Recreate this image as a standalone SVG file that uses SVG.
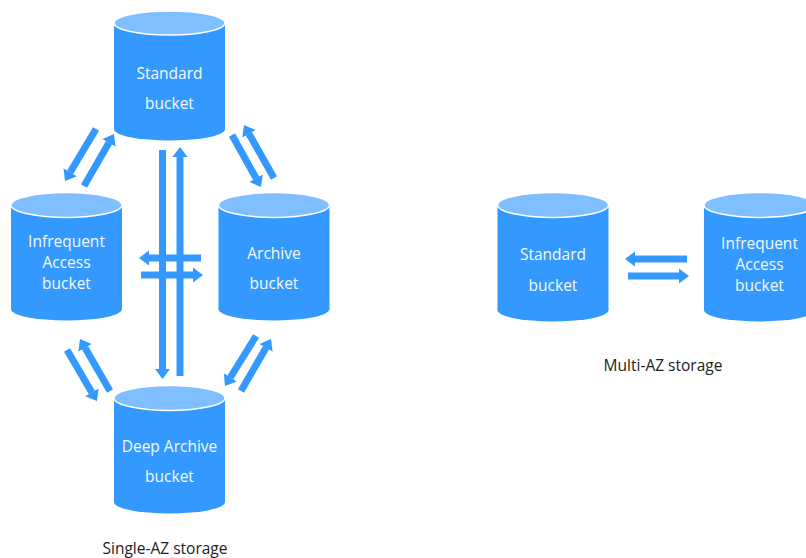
<svg xmlns="http://www.w3.org/2000/svg" width="806" height="558" viewBox="0 0 806 558">
  <style>
    .body { fill: #3399ff; }
    .top { fill: #80bfff; stroke: #ffffff; stroke-width: 1.5; }
    .lbl { font-family: "Open Sans", "Noto Sans", sans-serif; font-size: 15.5px; fill: #f4f9ff; text-anchor: middle; }
    .cap { font-family: "Open Sans", "Noto Sans", sans-serif; font-size: 15.5px; fill: #222222; text-anchor: middle; }
    .arr { stroke: #3399ff; stroke-width: 7; fill: none; marker-end: url(#head); }
  </style>
  <defs>
    <marker id="head" markerUnits="strokeWidth" markerWidth="1.45" markerHeight="2.2" refX="0.02" refY="1.1" orient="auto" viewBox="0 0 1.45 2.2">
      <path d="M0,0 L1.45,1.1 L0,2.2 Z" fill="#3399ff"/>
    </marker>
  </defs>
  <rect width="806" height="558" fill="#ffffff"/>

  <g id="connectors">
    <line class="arr" x1="96" y1="129" x2="70.1" y2="172.4"/>
    <line class="arr" x1="84" y1="186" x2="109" y2="142.7"/>
    <line class="arr" x1="232" y1="135" x2="256.1" y2="178.3"/>
    <line class="arr" x1="274" y1="178" x2="248.9" y2="133.7"/>
    <line class="arr" x1="67" y1="350" x2="91.9" y2="392.4"/>
    <line class="arr" x1="110" y1="391" x2="85" y2="347.7"/>
    <line class="arr" x1="256" y1="336" x2="230.3" y2="377.5"/>
    <line class="arr" x1="241" y1="391" x2="266" y2="347.7"/>
    <line class="arr" x1="162.5" y1="150" x2="162.5" y2="369"/>
    <line class="arr" x1="180" y1="376" x2="180" y2="157"/>
    <line class="arr" x1="201" y1="258" x2="149" y2="258"/>
    <line class="arr" x1="141" y1="275" x2="193" y2="275"/>
    <line class="arr" x1="687" y1="259" x2="635" y2="259"/>
    <line class="arr" x1="628" y1="276" x2="679" y2="276"/>
  </g>

  <g id="single-standard">
    <rect class="body" x="114" y="23" width="111" height="106"/>
    <ellipse class="body" cx="169.5" cy="129" rx="55.5" ry="11.5"/>
    <ellipse class="top" cx="169.5" cy="23" rx="55.5" ry="12"/>
    <text class="lbl" x="169.5" y="79">Standard</text>
    <text class="lbl" x="169.5" y="109">bucket</text>
  </g>

  <g id="single-ia">
    <rect class="body" x="11" y="205" width="111" height="104"/>
    <ellipse class="body" cx="66.5" cy="309" rx="55.5" ry="11.5"/>
    <ellipse class="top" cx="66.5" cy="205" rx="55.5" ry="12.5"/>
    <text class="lbl" x="66.5" y="247">Infrequent</text>
    <text class="lbl" x="66.5" y="268">Access</text>
    <text class="lbl" x="66.5" y="289">bucket</text>
  </g>

  <g id="single-archive">
    <rect class="body" x="218.5" y="205" width="111" height="104"/>
    <ellipse class="body" cx="274" cy="309" rx="55.5" ry="11.5"/>
    <ellipse class="top" cx="274" cy="205" rx="55.5" ry="12.5"/>
    <text class="lbl" x="274" y="259">Archive</text>
    <text class="lbl" x="274" y="289">bucket</text>
  </g>

  <g id="single-deep-archive">
    <rect class="body" x="114" y="398" width="111" height="104"/>
    <ellipse class="body" cx="169.5" cy="502" rx="55.5" ry="11.5"/>
    <ellipse class="top" cx="169.5" cy="398" rx="55.5" ry="12.5"/>
    <text class="lbl" x="169.5" y="452">Deep Archive</text>
    <text class="lbl" x="169.5" y="482">bucket</text>
  </g>

  <g id="multi-standard">
    <rect class="body" x="497.5" y="205" width="111" height="105"/>
    <ellipse class="body" cx="553" cy="310" rx="55.5" ry="11.5"/>
    <ellipse class="top" cx="553" cy="205" rx="55.5" ry="12.5"/>
    <text class="lbl" x="553" y="260">Standard</text>
    <text class="lbl" x="553" y="291">bucket</text>
  </g>

  <g id="multi-ia">
    <rect class="body" x="704" y="205" width="111" height="105"/>
    <ellipse class="body" cx="759.5" cy="310" rx="55.5" ry="11.5"/>
    <ellipse class="top" cx="759.5" cy="205" rx="55.5" ry="12.5"/>
    <text class="lbl" x="759.5" y="249">Infrequent</text>
    <text class="lbl" x="759.5" y="270">Access</text>
    <text class="lbl" x="759.5" y="291">bucket</text>
  </g>

  <g id="captions">
    <text class="cap" x="165" y="554">Single-AZ storage</text>
    <text class="cap" x="663" y="371">Multi-AZ storage</text>
  </g>
</svg>
